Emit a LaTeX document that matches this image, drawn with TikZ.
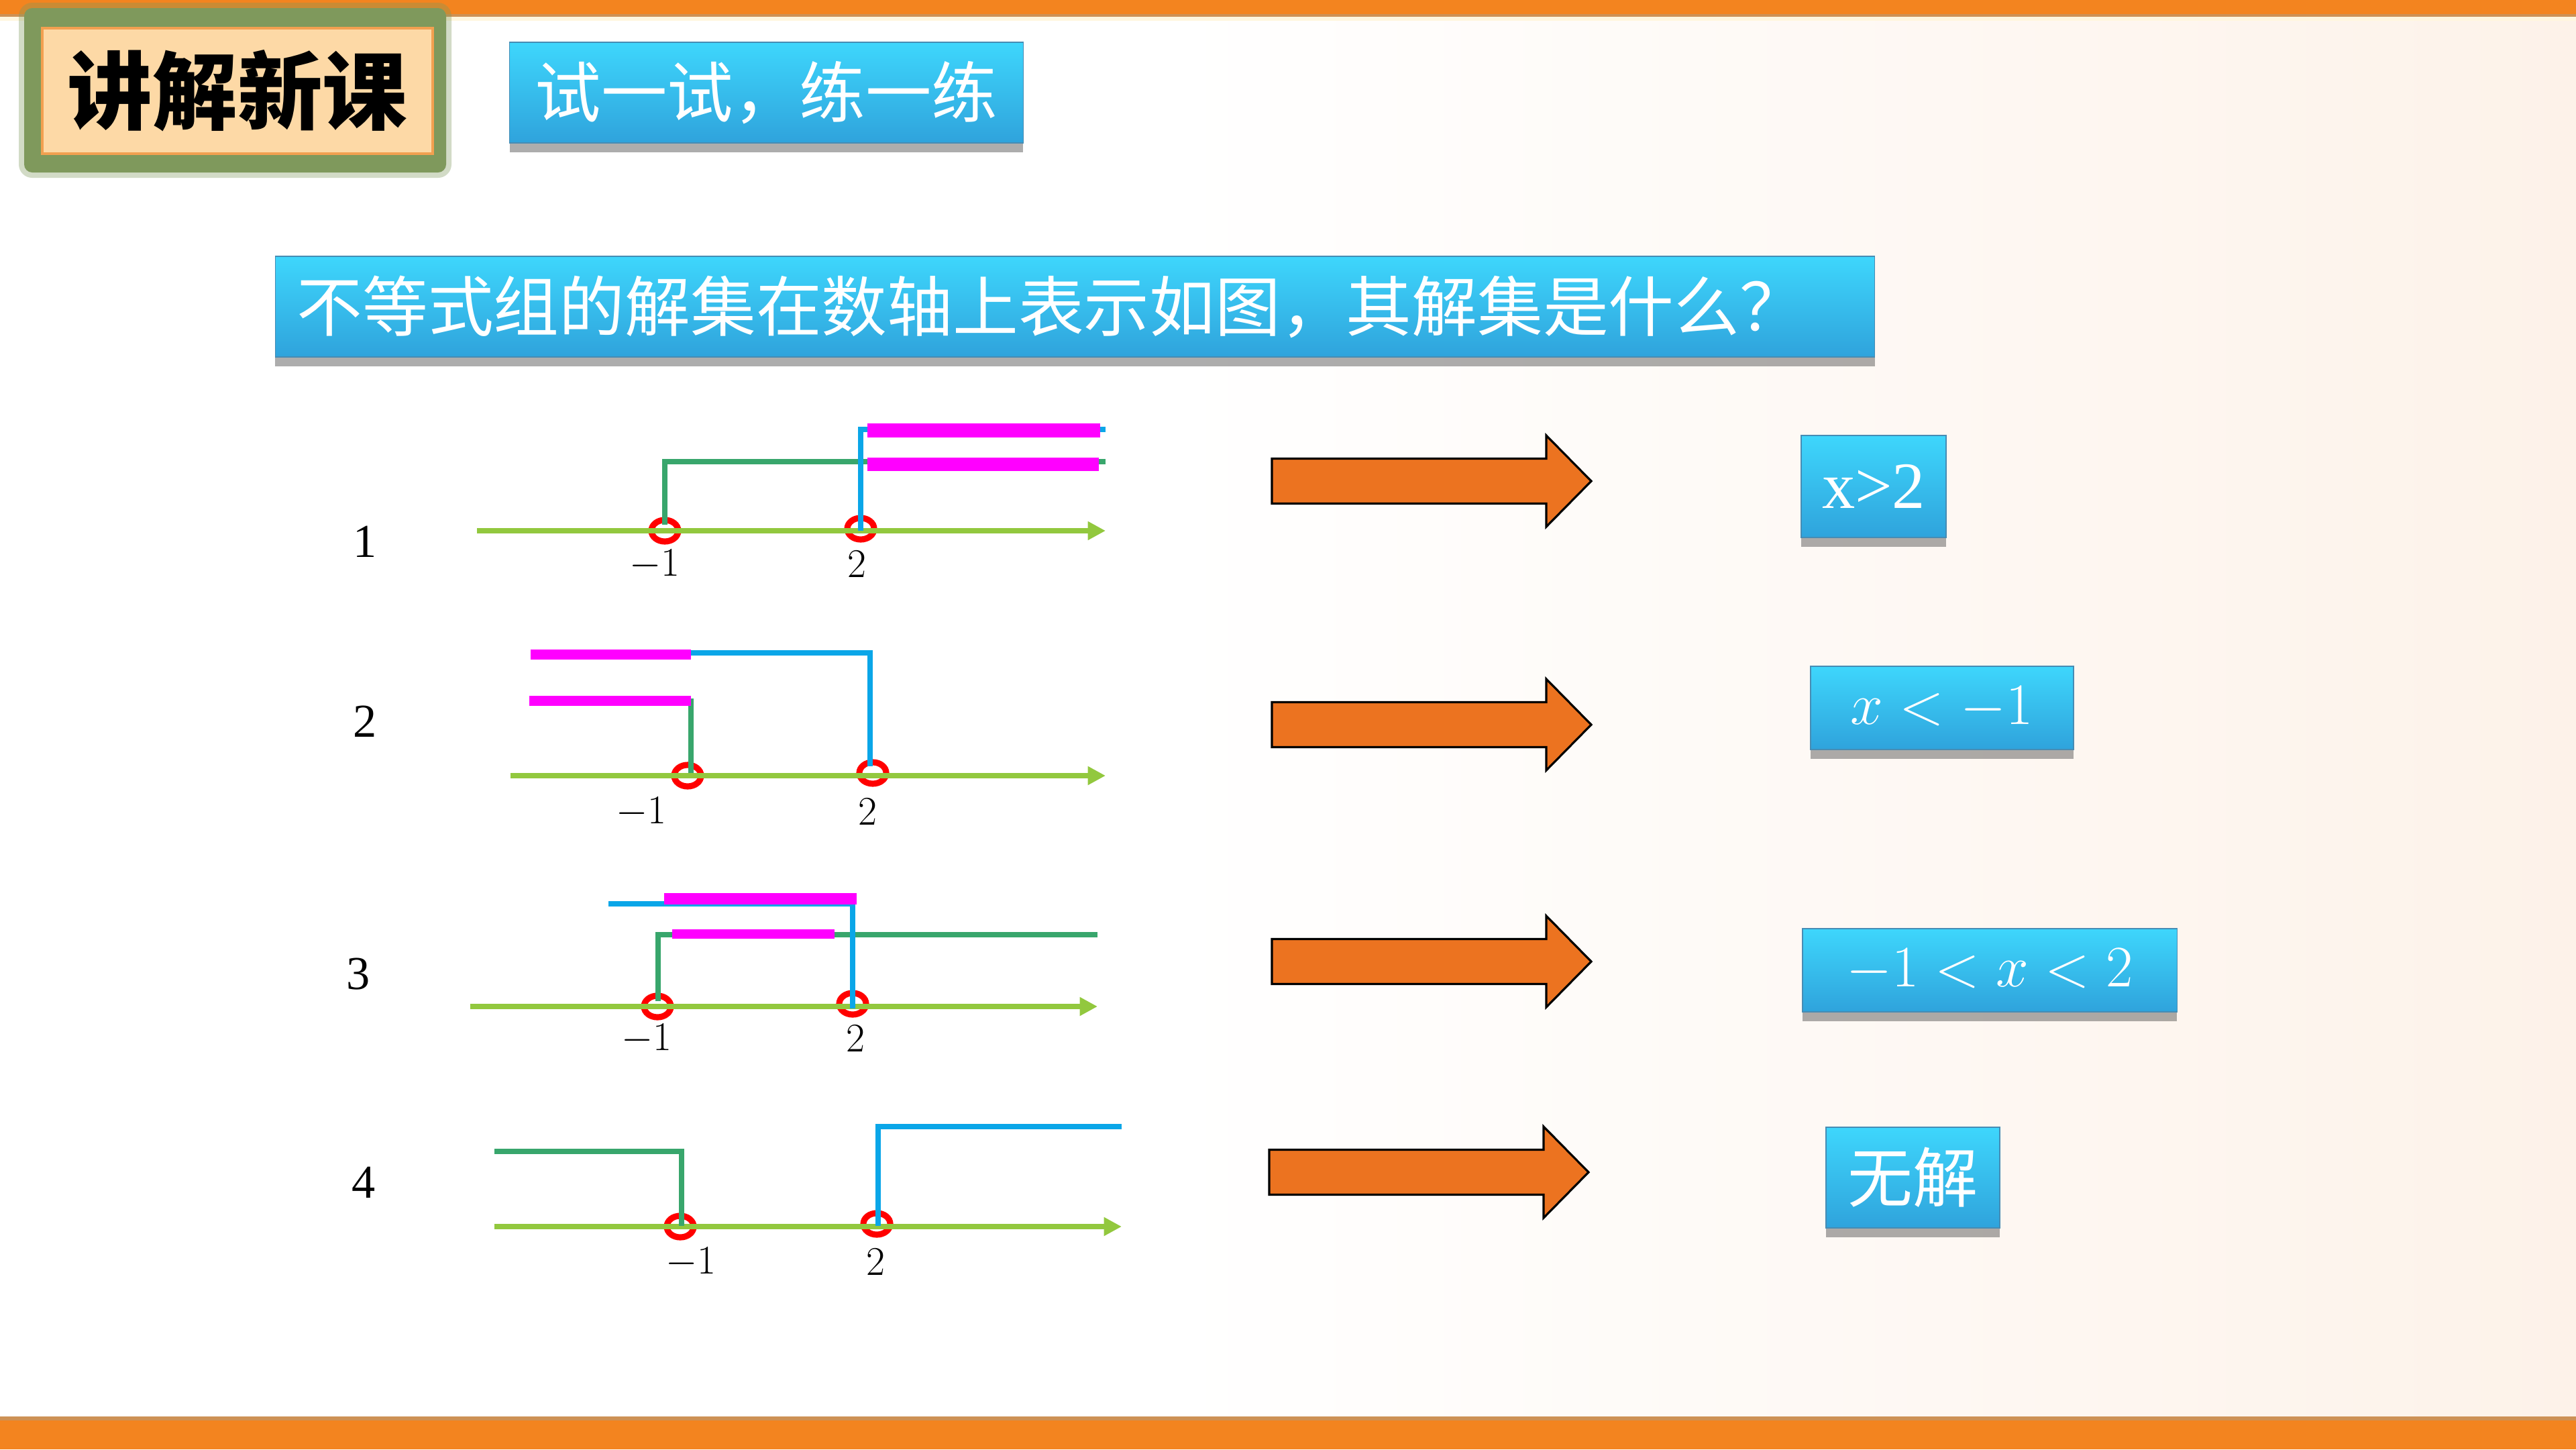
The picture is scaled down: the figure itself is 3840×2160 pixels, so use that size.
\documentclass[tikz,border=0pt]{standalone}
\usepackage[no-math]{fontspec}
\setmainfont{Liberation Serif}
\newfontfamily\cjk{Noto Sans CJK SC}
\usetikzlibrary{arrows.meta,shadows}

\definecolor{barorange}{RGB}{243,132,31}
\definecolor{barbrown}{RGB}{205,145,85}
\definecolor{barpale}{RGB}{255,246,222}
\definecolor{titleframe}{RGB}{127,153,92}
\definecolor{titlefill}{RGB}{253,217,166}
\definecolor{titleedge}{RGB}{242,160,80}
\definecolor{boxtop}{RGB}{62,214,252}
\definecolor{boxbot}{RGB}{47,163,220}
\definecolor{boxedge}{RGB}{70,140,180}
\definecolor{axisgreen}{RGB}{146,200,62}
\definecolor{setgreen}{RGB}{56,166,108}
\definecolor{setblue}{RGB}{10,166,232}
\definecolor{setpink}{RGB}{255,0,255}
\definecolor{arroworange}{RGB}{236,115,32}
\definecolor{watermark}{RGB}{253,242,233}

\tikzset{
  bluebox/.style={top color=boxtop, bottom color=boxbot, draw=boxedge, line width=0.4pt,
    inner sep=0pt, text=white,
    drop shadow={shadow xshift=0pt, shadow yshift=-4pt, opacity=0.4, fill=black!80}},
  axis/.style={axisgreen, line width=2.3pt, -{Triangle[length=7.5pt,width=7.5pt]}},
  hole/.style={red, line width=2.6pt},
  lowset/.style={setgreen, line width=2.3pt},
  highset/.style={setblue, line width=2.5pt},
  common/.style={fill=setpink},
  ticklabel/.style={inner sep=0pt, font=\fontsize{16pt}{16pt}\selectfont},
  rowlabel/.style={inner sep=0pt, font=\fontsize{20pt}{20pt}\selectfont},
  bigarrow/.style={fill=arroworange, draw=black, line width=0.9pt},
}

% block arrow, #1 = middle of its tail
\newcommand{\solarrow}[1]{\draw[bigarrow] #1 ++(0,-33.5) -- ++(409,0) -- ++(0,-34.5)
  -- ++(67,68) -- ++(-67,68) -- ++(0,-34.5) -- ++(-409,0) -- cycle;}

\begin{document}
\begin{tikzpicture}[x=0.01cm, y=-0.01cm]
  \useasboundingbox (0,0) rectangle (3840,2160);
  \fill[white] (0,0) rectangle (3840,2160);
  \shade[left color=white, right color=watermark] (1750,31) rectangle (3840,2111);

  % bars
  \fill[barpale] (0,0) rectangle (3840,31);
  \fill[barbrown] (0,0) rectangle (3840,25);
  \fill[barorange] (0,0) rectangle (3840,21);
  \fill[barbrown] (0,2111) rectangle (3840,2160);
  \fill[barorange] (0,2117) rectangle (3840,2160);

  % header
  \fill[titleframe, opacity=0.35, rounded corners=0.2cm] (28,4) rectangle (673,265);
  \fill[titleframe, rounded corners=0.12cm] (36,12) rectangle (665,257);
  \node[draw=titleedge, line width=1pt, fill=titlefill, minimum width=5.82cm,
    minimum height=1.87cm, inner sep=0pt,
    font=\cjk\bfseries\fontsize{36pt}{36pt}\selectfont] (title) at (354,135.5) {讲解新课};
  \node[bluebox, minimum width=7.65cm, minimum height=1.5cm,
    font=\cjk\fontsize{28pt}{28pt}\selectfont] (try) at (1142.5,138) {试一试，练一练};

  % question
  \node[bluebox, minimum width=23.83cm, minimum height=1.5cm] (question) at (1602.5,457) {};
  \node[anchor=west, inner sep=0pt, text=white, font=\cjk\fontsize{27.8pt}{27.8pt}\selectfont]
    (qtext) at (442,457) {不等式组的解集在数轴上表示如图，其解集是什么？};

  % row 1
  \draw[hole] (991,791) ellipse [x radius=0.2cm, y radius=0.16cm];
  \draw[hole] (1283,788) ellipse [x radius=0.2cm, y radius=0.16cm];
  \draw[axis] (711,791) -- (1648,791);
  \draw[lowset] (991,782) |- (1648,688);
  \draw[highset] (1283,791) |- (1648,640);
  \fill[common] (1293,631) rectangle (1640,652);
  \fill[common] (1293,682) rectangle (1638,702);
  \node[ticklabel] (m1) at (976,841) {$-1$};
  \node[ticklabel] (p1) at (1277,841) {$2$};
  \node[rowlabel] (r1) at (544,807) {1};

  % row 2
  \draw[hole] (1025,1156) ellipse [x radius=0.2cm, y radius=0.16cm];
  \draw[hole] (1301,1152) ellipse [x radius=0.2cm, y radius=0.16cm];
  \draw[axis] (761,1156) -- (1648,1156);
  \draw[lowset] (1030,1152) |- (789,1045);
  \draw[highset] (1297,1142) |- (791,973);
  \fill[common] (791,968) rectangle (1030,983);
  \fill[common] (789,1037) rectangle (1030,1052);
  \node[ticklabel] (m2) at (956,1210) {$-1$};
  \node[ticklabel] (p2) at (1293,1210) {$2$};
  \node[rowlabel] (r2) at (544,1075) {2};

  % row 3
  \draw[hole] (980,1500) ellipse [x radius=0.2cm, y radius=0.16cm];
  \draw[hole] (1271,1496) ellipse [x radius=0.2cm, y radius=0.16cm];
  \draw[axis] (701,1500) -- (1636,1500);
  \draw[lowset] (981,1492) |- (1636,1393);
  \draw[highset] (1271,1503) |- (907,1347);
  \fill[common] (990,1331) rectangle (1277,1348);
  \fill[common] (1002,1385) rectangle (1244,1399);
  \node[ticklabel] (m3) at (964,1548) {$-1$};
  \node[ticklabel] (p3) at (1275,1548) {$2$};
  \node[rowlabel] (r3) at (534,1452) {3};

  % row 4
  \draw[hole] (1014,1828) ellipse [x radius=0.2cm, y radius=0.16cm];
  \draw[hole] (1307,1824) ellipse [x radius=0.2cm, y radius=0.16cm];
  \draw[axis] (737,1828) -- (1672,1828);
  \draw[lowset] (737,1716) -| (1016,1827);
  \draw[highset] (1309,1827) |- (1672,1679);
  \node[ticklabel] (m4) at (1030,1881) {$-1$};
  \node[ticklabel] (p4) at (1305,1881) {$2$};
  \node[rowlabel] (r4) at (542,1762) {4};

  % arrows
  \solarrow{(1896,717)}
  \solarrow{(1896,1080)}
  \solarrow{(1896,1433)}
  \solarrow{(1892,1747)}

  % answers
  \node[bluebox, minimum width=2.16cm, minimum height=1.52cm,
    font=\fontsize{28pt}{28pt}\selectfont] (ans1) at (2793,725) {x>2};
  \node[bluebox, minimum width=3.92cm, minimum height=1.24cm,
    font=\fontsize{25pt}{25pt}\selectfont] (ans2) at (2895,1055) {$x<-1$};
  \node[bluebox, minimum width=5.58cm, minimum height=1.24cm,
    font=\fontsize{25pt}{25pt}\selectfont] (ans3) at (2966,1446) {$-1<x<2$};
  \node[bluebox, minimum width=2.59cm, minimum height=1.5cm,
    font=\cjk\fontsize{27.6pt}{27.6pt}\selectfont] (ans4) at (2851.5,1755) {无解};
\end{tikzpicture}
\end{document}
